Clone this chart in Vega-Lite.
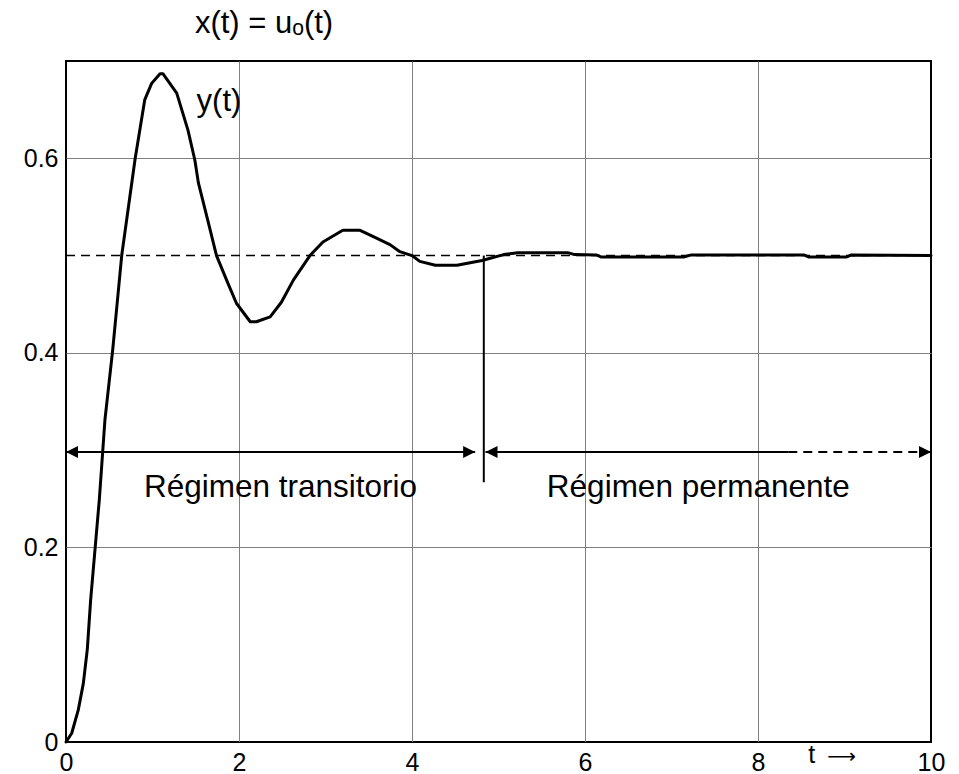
{
  "$schema": "https://vega.github.io/schema/vega-lite/v6.json",
  "width": 865,
  "height": 681,
  "autosize": "none",
  "padding": {"left": 66, "top": 61, "right": 28, "bottom": 32},
  "background": "white",
  "config": {
    "view": {"stroke": "black", "strokeWidth": 2},
    "font": "Liberation Sans",
    "text": {"font": "Liberation Sans", "color": "black"}
  },
  "datasets": {
    "curve": [
      {"t": 0, "y": 0},
      {"t": 0.066, "y": 0.009},
      {"t": 0.142, "y": 0.033},
      {"t": 0.2, "y": 0.06},
      {"t": 0.246, "y": 0.095},
      {"t": 0.285, "y": 0.146},
      {"t": 0.385, "y": 0.249},
      {"t": 0.45, "y": 0.331},
      {"t": 0.54, "y": 0.403},
      {"t": 0.644, "y": 0.5},
      {"t": 0.8, "y": 0.6},
      {"t": 0.91, "y": 0.66},
      {"t": 0.99, "y": 0.677},
      {"t": 1.087, "y": 0.687},
      {"t": 1.12, "y": 0.687},
      {"t": 1.28, "y": 0.667},
      {"t": 1.41, "y": 0.629},
      {"t": 1.49, "y": 0.598},
      {"t": 1.53, "y": 0.575},
      {"t": 1.64, "y": 0.536},
      {"t": 1.74, "y": 0.5},
      {"t": 1.87, "y": 0.472},
      {"t": 1.97, "y": 0.451},
      {"t": 2.13, "y": 0.432},
      {"t": 2.2, "y": 0.432},
      {"t": 2.36, "y": 0.437},
      {"t": 2.49, "y": 0.452},
      {"t": 2.63, "y": 0.475},
      {"t": 2.82, "y": 0.5},
      {"t": 2.97, "y": 0.514},
      {"t": 3.2, "y": 0.526},
      {"t": 3.4, "y": 0.526},
      {"t": 3.59, "y": 0.518},
      {"t": 3.75, "y": 0.511},
      {"t": 3.86, "y": 0.504},
      {"t": 4.0, "y": 0.5},
      {"t": 4.09, "y": 0.494},
      {"t": 4.27, "y": 0.49},
      {"t": 4.52, "y": 0.49},
      {"t": 4.81, "y": 0.495},
      {"t": 5.06, "y": 0.501},
      {"t": 5.22, "y": 0.503},
      {"t": 5.8, "y": 0.503},
      {"t": 5.88, "y": 0.501},
      {"t": 6.13, "y": 0.5007},
      {"t": 6.19, "y": 0.4985},
      {"t": 7.14, "y": 0.4985},
      {"t": 7.23, "y": 0.5007},
      {"t": 8.53, "y": 0.5007},
      {"t": 8.59, "y": 0.4985},
      {"t": 9.02, "y": 0.4985},
      {"t": 9.08, "y": 0.5007},
      {"t": 10, "y": 0.5}
    ],
    "ref": [{"t0": 0, "t1": 10, "y": 0.5}],
    "arrowsSolid": [
      {"t0": 0, "t1": 4.73, "y": 0.298},
      {"t0": 4.85, "t1": 8.35, "y": 0.298}
    ],
    "arrowDashed": [{"t0": 8.35, "t1": 10, "y": 0.298}],
    "divider": [{"t": 4.83, "y0": 0.267, "y1": 0.5}],
    "headsLeft": [{"t": 0, "y": 0.298}, {"t": 4.85, "y": 0.298}],
    "headsRight": [{"t": 4.73, "y": 0.298}, {"t": 10, "y": 0.298}],
    "regions": [
      {"t": 2.48, "y": 0.252, "label": "Régimen transitorio"},
      {"t": 7.31, "y": 0.252, "label": "Régimen permanente"}
    ],
    "curveLabels": [
      {"t": 1.51, "y": 0.649, "label": "y(t)"},
      {"t": 1.49, "y": 0.7287, "label": "x(t) = uₒ(t)"}
    ],
    "axisLabel": [{"t": 8.58, "y": -0.0216, "label": "t"}],
    "axisArrow": [{"t": 8.8, "y": -0.0216, "label": "⟶"}]
  },
  "layer": [
    {
      "data": {"name": "ref"},
      "mark": {"type": "rule", "color": "black", "strokeWidth": 1.5, "strokeDash": [9, 6]},
      "encoding": {
        "x": {
          "field": "t0", "type": "quantitative", "title": null,
          "scale": {"domain": [0, 10], "nice": false, "zero": false},
          "axis": {
            "values": [0, 2, 4, 6, 8, 10],
            "format": "d",
            "grid": true,
            "gridColor": {"condition": {"test": "datum.value == 0 || datum.value == 10", "value": "black"}, "value": "#808080"},
            "gridWidth": 1,
            "ticks": false,
            "domain": false,
            "labelFontSize": 25,
            "labelFont": "Liberation Sans",
            "labelColor": "black",
            "labelPadding": 8,
            "labelFlush": false,
            "title": null
          }
        },
        "x2": {"field": "t1"},
        "y": {
          "field": "y", "type": "quantitative", "title": null,
          "scale": {"domain": [0, 0.7], "nice": false, "zero": false},
          "axis": {
            "values": [0, 0.2, 0.4, 0.6],
            "format": ".1~f",
            "grid": true,
            "gridColor": {"condition": {"test": "datum.value == 0", "value": "black"}, "value": "#808080"},
            "gridWidth": 1,
            "ticks": false,
            "domain": false,
            "labelFontSize": 25,
            "labelFont": "Liberation Sans",
            "labelColor": "black",
            "labelPadding": 8,
            "labelFlush": false,
            "title": null
          }
        }
      }
    },
    {
      "data": {"name": "curve"},
      "mark": {"type": "line", "color": "black", "strokeWidth": 3, "strokeJoin": "round", "strokeCap": "round"},
      "encoding": {
        "x": {"field": "t", "type": "quantitative", "title": null},
        "y": {"field": "y", "type": "quantitative", "title": null}
      }
    },
    {
      "data": {"name": "arrowsSolid"},
      "mark": {"type": "rule", "color": "black", "strokeWidth": 2},
      "encoding": {
        "x": {"field": "t0", "type": "quantitative", "title": null},
        "x2": {"field": "t1"},
        "y": {"field": "y", "type": "quantitative", "title": null}
      }
    },
    {
      "data": {"name": "arrowDashed"},
      "mark": {"type": "rule", "color": "black", "strokeWidth": 2, "strokeDash": [9, 6]},
      "encoding": {
        "x": {"field": "t0", "type": "quantitative", "title": null},
        "x2": {"field": "t1"},
        "y": {"field": "y", "type": "quantitative", "title": null}
      }
    },
    {
      "data": {"name": "divider"},
      "mark": {"type": "rule", "color": "black", "strokeWidth": 2},
      "encoding": {
        "x": {"field": "t", "type": "quantitative", "title": null},
        "y": {"field": "y0", "type": "quantitative", "title": null},
        "y2": {"field": "y1"}
      }
    },
    {
      "data": {"name": "headsLeft"},
      "mark": {"type": "point", "shape": "M0,0L1,-0.5L1,0.5Z", "size": 576, "filled": true, "color": "black", "opacity": 1, "strokeWidth": 0},
      "encoding": {
        "x": {"field": "t", "type": "quantitative", "title": null},
        "y": {"field": "y", "type": "quantitative", "title": null}
      }
    },
    {
      "data": {"name": "headsRight"},
      "mark": {"type": "point", "shape": "M0,0L-1,-0.5L-1,0.5Z", "size": 576, "filled": true, "color": "black", "opacity": 1, "strokeWidth": 0},
      "encoding": {
        "x": {"field": "t", "type": "quantitative", "title": null},
        "y": {"field": "y", "type": "quantitative", "title": null}
      }
    },
    {
      "data": {"name": "regions"},
      "mark": {"type": "text", "fontSize": 31.5, "align": "center", "baseline": "alphabetic", "font": "Liberation Sans", "color": "black"},
      "encoding": {
        "x": {"field": "t", "type": "quantitative", "title": null},
        "y": {"field": "y", "type": "quantitative", "title": null},
        "text": {"field": "label"}
      }
    },
    {
      "data": {"name": "curveLabels"},
      "mark": {"type": "text", "fontSize": 31, "align": "left", "baseline": "alphabetic", "font": "Liberation Sans", "color": "black"},
      "encoding": {
        "x": {"field": "t", "type": "quantitative", "title": null},
        "y": {"field": "y", "type": "quantitative", "title": null},
        "text": {"field": "label"}
      }
    },
    {
      "data": {"name": "axisLabel"},
      "mark": {"type": "text", "fontSize": 25, "align": "left", "baseline": "alphabetic", "font": "Liberation Sans", "color": "black"},
      "encoding": {
        "x": {"field": "t", "type": "quantitative", "title": null},
        "y": {"field": "y", "type": "quantitative", "title": null},
        "text": {"field": "label"}
      }
    },
    {
      "data": {"name": "axisArrow"},
      "mark": {"type": "text", "fontSize": 20, "align": "left", "baseline": "alphabetic", "font": "DejaVu Sans", "color": "black"},
      "encoding": {
        "x": {"field": "t", "type": "quantitative", "title": null},
        "y": {"field": "y", "type": "quantitative", "title": null},
        "text": {"field": "label"}
      }
    }
  ]
}
